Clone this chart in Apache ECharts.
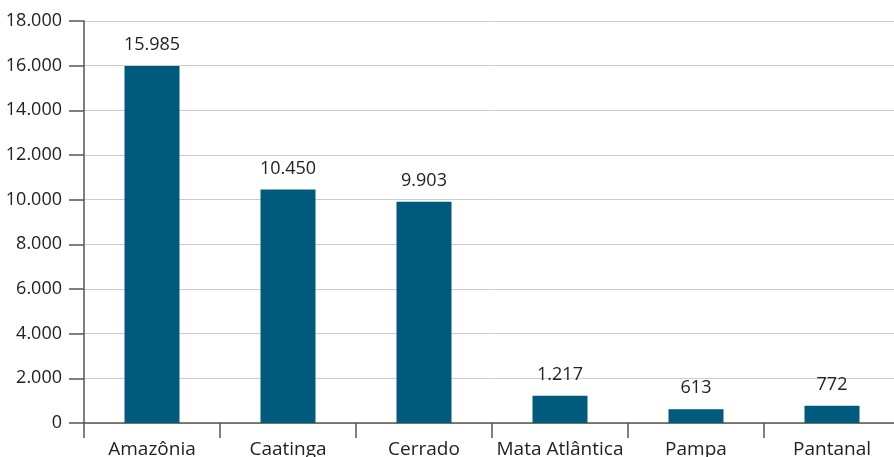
<!DOCTYPE html>
<html>
<head>
<meta charset="utf-8">
<script src="https://cdn.jsdelivr.net/npm/echarts@6/dist/echarts.min.js"></script>
<style>
  html, body { margin: 0; padding: 0; background: #fff; }
  #chart { width: 894px; height: 457px; }
</style>
</head>
<body>
<div id="chart"></div>
<script>
var biomes = ['Amazônia', 'Caatinga', 'Cerrado', 'Mata Atlântica', 'Pampa', 'Pantanal'];
var values = [15985, 10450, 9903, 1217, 613, 772];

function fmt(v) {
    return String(v).replace(/\B(?=(\d{3})+(?!\d))/g, '.');
}

var myChart = echarts.init(document.getElementById('chart'));
var option = {
    animation: false,
    textStyle: { fontFamily: 'Open Sans' },
    grid: { left: 84, right: -6, top: 21, bottom: 34, outerBoundsMode: 'none', containLabel: false },
    xAxis: {
        type: 'category',
        data: biomes,
        axisLine: { lineStyle: { color: '#555', width: 1.5 } },
        axisTick: { show: true, interval: 0, length: 15, lineStyle: { color: '#555', width: 1.5 } },
        axisLabel: { interval: 0, color: '#222', fontSize: 19, margin: 17, hideOverlap: false }
    },
    yAxis: {
        type: 'value',
        min: 0,
        max: 18000,
        interval: 2000,
        axisLine: { show: true, lineStyle: { color: '#555', width: 1.5 } },
        axisTick: { show: true, length: 15, lineStyle: { color: '#555', width: 1.5 } },
        axisLabel: { color: '#222', fontSize: 18, margin: 22, formatter: fmt },
        splitLine: { lineStyle: { color: '#ccc', width: 1 } }
    },
    series: [{
        type: 'bar',
        data: values,
        barWidth: 55,
        itemStyle: { color: '#005a7c' },
        label: {
            show: true,
            position: 'top',
            distance: 12,
            color: '#222',
            fontSize: 18,
            formatter: function (p) { return fmt(p.value); }
        }
    }]
};
myChart.setOption(option);
</script>
</body>
</html>
